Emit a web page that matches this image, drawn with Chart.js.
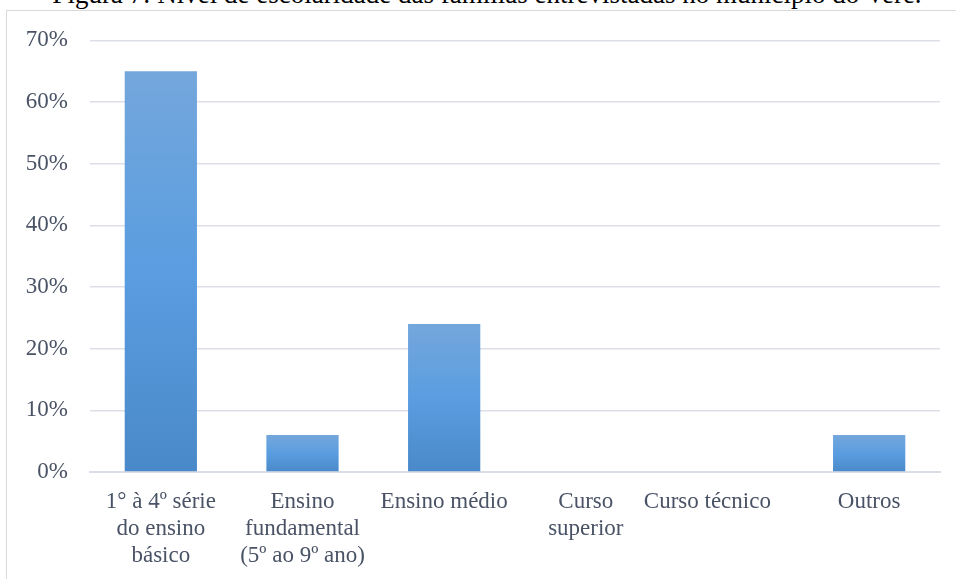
<!DOCTYPE html>
<html>
<head>
<meta charset="utf-8">
<script src="https://cdn.jsdelivr.net/npm/chart.js@4"></script>
<style>
  html,body{margin:0;padding:0;background:#fff;overflow:hidden;}
  body{width:956px;height:579px;position:relative;font-family:"Liberation Serif","Times New Roman",serif;}
  #title{position:absolute;left:0;width:974px;top:-21px;text-align:center;font-size:27px;line-height:30px;color:#000;white-space:nowrap;}
  #box{position:absolute;left:6px;top:10px;width:960px;height:600px;border:1px solid #d9d9d9;box-sizing:border-box;}
  #wrap{position:absolute;left:8px;top:5px;width:948px;height:586px;}
</style>
</head>
<body>
<div id="title">Figura 7: Nível de escolaridade das famílias entrevistadas no município do Verê.</div>
<div id="box"></div>
<div id="wrap"><canvas id="c" width="948" height="586"></canvas></div>
<script>
const categories = [
  ["1° à 4º série","do ensino","básico"],
  ["Ensino","fundamental","(5º ao 9º ano)"],
  "Ensino médio",
  ["Curso","superior"],
  "Curso técnico\u00a0\u00a0\u00a0\u00a0\u00a0\u00a0\u00a0",
  "Outros"
];
const values = [65, 6, 24, 0, 0, 6];
const yTicks = [0, 10, 20, 30, 40, 50, 60, 70];

const textColor = '#4a5366';
const font = {family: '"Liberation Serif","Times New Roman",serif', size: 23, lineHeight: 1.16};

new Chart(document.getElementById('c'), {
  type: 'bar',
  data: {
    labels: categories,
    datasets: [{
      data: values,
      backgroundColor: function(ctx){
        const chart = ctx.chart;
        const y = chart.scales && chart.scales.y;
        if (!y || !chart.chartArea || ctx.dataIndex === undefined) return '#5b9bd5';
        const top = y.getPixelForValue(ctx.raw);
        const bottom = y.getPixelForValue(0);
        if (!(isFinite(top) && isFinite(bottom)) || bottom - top < 1) return '#5b9bd5';
        const g = chart.ctx.createLinearGradient(0, top, 0, bottom);
        g.addColorStop(0, '#74a7dc');
        g.addColorStop(0.5, '#5a9de0');
        g.addColorStop(1, '#4a89c9');
        return g;
      },
      borderWidth: 0,
      categoryPercentage: 1,
      barPercentage: 0.51
    }]
  },
  options: {
    responsive: false,
    animation: false,
    devicePixelRatio: 1,
    layout: {padding: {top: 22, right: 16, bottom: 0, left: 0}},
    plugins: {legend: {display: false}, tooltip: {enabled: false}, title: {display: false}},
    scales: {
      x: {
        grid: {display: false, drawTicks: false},
        border: {display: true, color: '#d9dde6', width: 2},
        ticks: {color: textColor, font: font, maxRotation: 0, minRotation: 0, autoSkip: false, padding: 17},
        afterFit: function(s){ s.height = 119; }
      },
      y: {
        min: 0, max: 70,
        afterBuildTicks: function(s){ s.ticks = yTicks.map(v => ({value: v})); },
        grid: {color: '#dcdfe7', lineWidth: 1.5, drawTicks: false},
        border: {display: false},
        ticks: {color: textColor, font: font, padding: 22, callback: v => v + '%'},
        afterFit: function(s){ s.width = 82; }
      }
    }
  }
});
</script>
</body>
</html>
